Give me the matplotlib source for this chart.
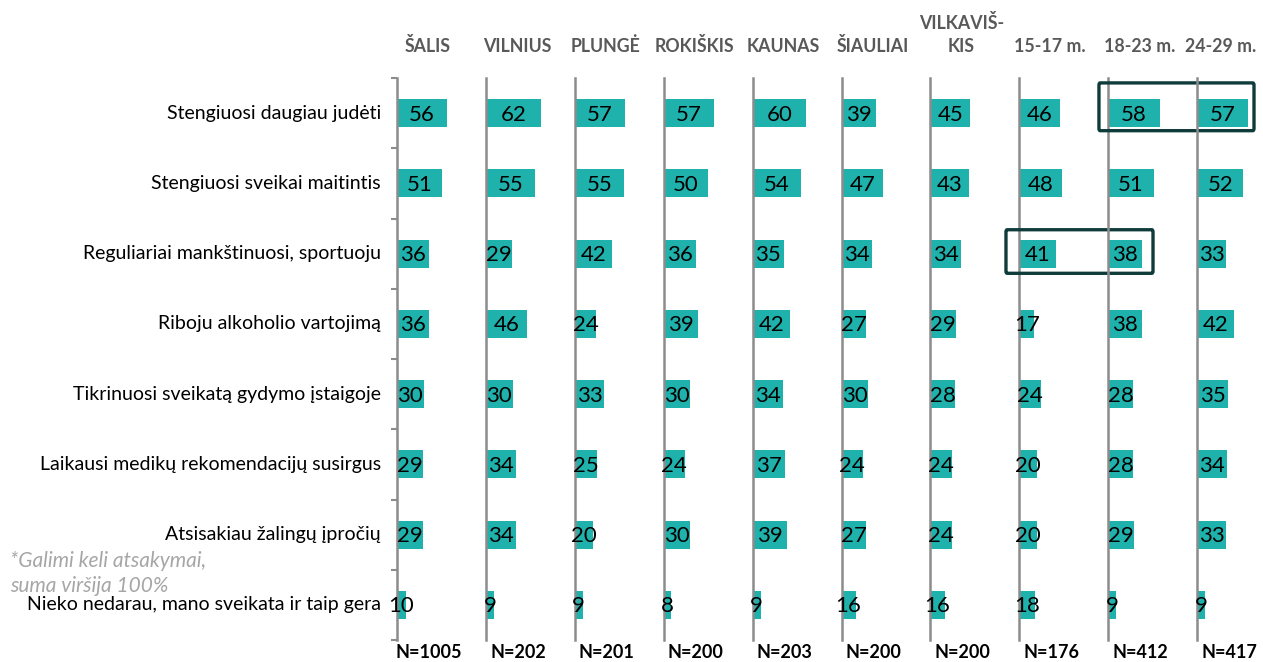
import matplotlib.pyplot as plt
from matplotlib.patches import FancyBboxPatch

plt.rcParams['font.family'] = ['Lato', 'DejaVu Sans']

answers = [
    'Stengiuosi daugiau judėti',
    'Stengiuosi sveikai maitintis',
    'Reguliariai mankštinuosi, sportuoju',
    'Riboju alkoholio vartojimą',
    'Tikrinuosi sveikatą gydymo įstaigoje',
    'Laikausi medikų rekomendacijų susirgus',
    'Atsisakiau žalingų įpročių',
    'Nieko nedarau, mano sveikata ir taip gera',
]
groups = ['ŠALIS', 'VILNIUS', 'PLUNGĖ', 'ROKIŠKIS', 'KAUNAS', 'ŠIAULIAI',
          'VILKAVIŠ-\nKIS', '15-17 m.', '18-23 m.', '24-29 m.']
sample_sizes = [1005, 202, 201, 200, 203, 200, 200, 176, 412, 417]

# % of respondents per answer, one list per group
salis = [56, 51, 36, 36, 30, 29, 29, 10]
vilnius = [62, 55, 29, 46, 30, 34, 34, 9]
plunge = [57, 55, 42, 24, 33, 25, 20, 9]
rokiskis = [57, 50, 36, 39, 30, 24, 30, 8]
kaunas = [60, 54, 35, 42, 34, 37, 39, 9]
siauliai = [39, 47, 34, 27, 30, 24, 27, 16]
vilkaviskis = [45, 43, 34, 29, 28, 24, 24, 16]
age_15_17 = [46, 48, 41, 17, 24, 20, 20, 18]
age_18_23 = [58, 51, 38, 38, 28, 28, 29, 9]
age_24_29 = [57, 52, 33, 42, 35, 34, 33, 9]
group_values = [salis, vilnius, plunge, rokiskis, kaunas, siauliai,
                vilkaviskis, age_15_17, age_18_23, age_24_29]

W, H = 1263, 662
x0, col_w = 397, 88.9
top, bottom = 78, 640
teal = '#1fb2ac'
line_gray = '#8c8c8c'
box_color = '#0f3b3a'

fig = plt.figure(figsize=(W / 100, H / 100), dpi=100)

axes = []
for i, vals in enumerate(group_values):
    ax = fig.add_axes([(x0 + i * col_w) / W, (H - bottom) / H,
                       col_w / W, (bottom - top) / H])
    ax.patch.set_alpha(0)
    ypos = list(range(len(answers)))
    ax.barh(ypos, vals, height=0.4, color=teal, zorder=1)
    for y, v in zip(ypos, vals):
        ax.text(v / 2, y + 0.02, str(v), ha='center', va='center',
                fontsize=16, color='black', zorder=3)
    ax.set_xlim(0, 100)
    ax.set_ylim(len(answers) - 0.5, -0.5)
    for s in ['top', 'right', 'bottom']:
        ax.spines[s].set_visible(False)
    ax.spines['left'].set_color(line_gray)
    ax.spines['left'].set_linewidth(1.8)
    ax.spines['left'].set_zorder(2)
    ax.set_xticks([])
    if i == 0:
        ax.set_yticks([k - 0.5 for k in range(len(answers) + 1)])
        ax.set_yticklabels([])
        ax.tick_params(axis='y', length=4, width=1.5, color=line_gray)
        for y, lab in zip(ypos, answers):
            ax.text(-18, y, lab, ha='right', va='center', fontsize=14,
                    color='black')
    else:
        ax.set_yticks([])
    axes.append(ax)

    # header stays inside the right edge for the last column
    cx = min(x0 + i * col_w + 31, W - 42) / W
    fig.text(cx, 1 - 55 / H, groups[i], ha='center', va='bottom',
             fontsize=12.8, fontweight='bold', color='#595959',
             linespacing=1.4)
    fig.text((x0 + i * col_w + 32) / W, 1 - 653 / H,
             f'N={sample_sizes[i]}', ha='center', va='center',
             fontsize=13, fontweight='bold', color='black')

# highlighted cells
box1 = FancyBboxPatch((-10.4, -0.43), 174.4, 0.68,
                      boxstyle='round,pad=0,rounding_size=1.5',
                      fill=False, edgecolor=box_color, linewidth=2.4,
                      clip_on=False, zorder=5, mutation_aspect=0.02)
axes[8].add_patch(box1)
box2 = FancyBboxPatch((-15, 1.66), 165.4, 0.62,
                      boxstyle='round,pad=0,rounding_size=1.5',
                      fill=False, edgecolor=box_color, linewidth=2.4,
                      clip_on=False, zorder=5, mutation_aspect=0.02)
axes[7].add_patch(box2)

fig.text(10 / W, 1 - 551 / H, '*Galimi keli atsakymai,\nsuma viršija 100%',
         ha='left', va='top', fontsize=15, style='italic',
         color='#a6a6a6', linespacing=1.3)

fig.savefig('out.png', dpi=100)
